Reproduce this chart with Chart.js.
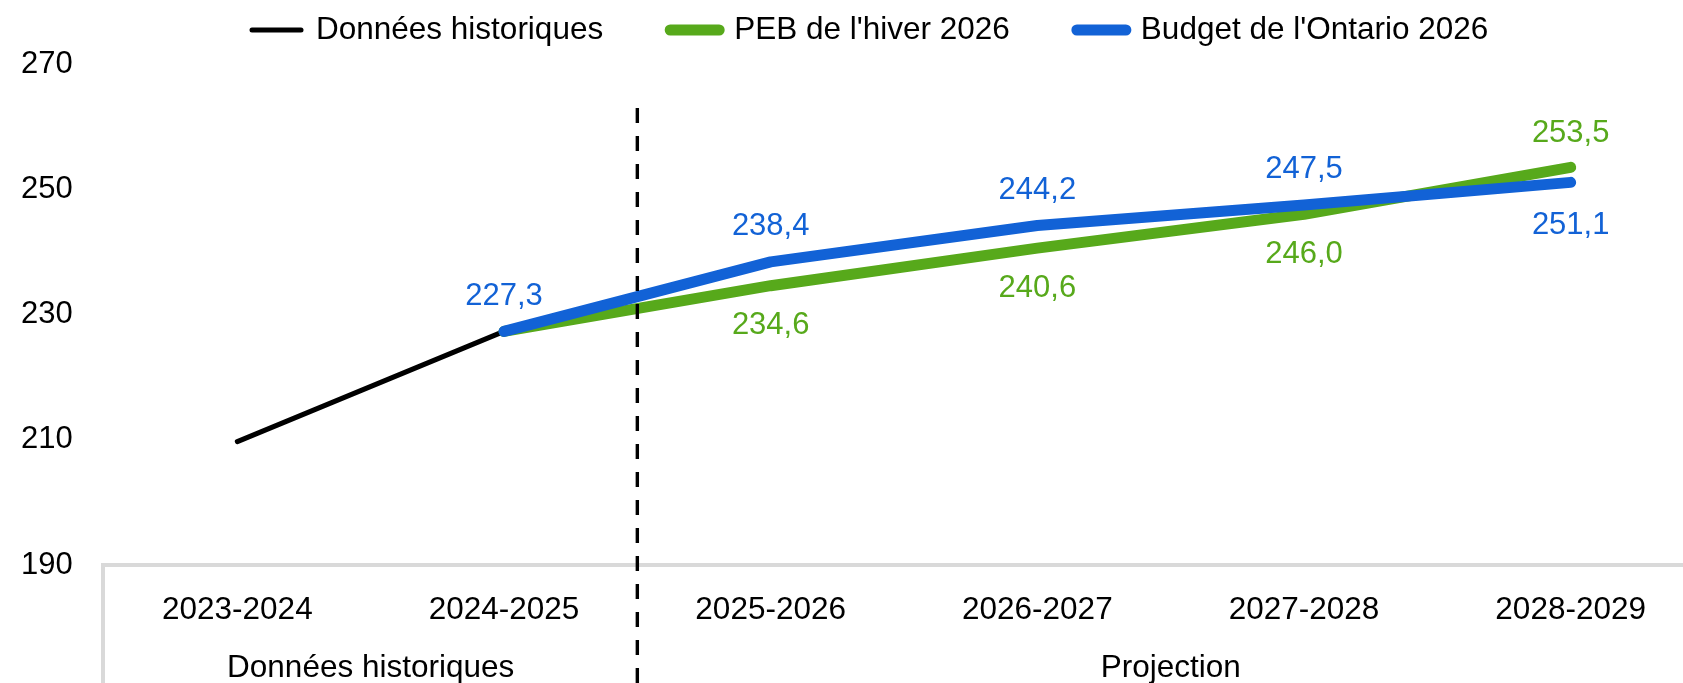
<!DOCTYPE html>
<html lang="fr">
<head>
<meta charset="utf-8">
<title>PEB de l'hiver 2026 et Budget de l'Ontario 2026</title>
<script src="https://cdn.jsdelivr.net/npm/chart.js@4.4.1/dist/chart.umd.min.js"></script>
<style>
  html, body { margin: 0; padding: 0; background: #fff; overflow: hidden; }
  #wrap { width: 1683px; height: 683px; overflow: hidden; }
  canvas { display: block; }
</style>
</head>
<body>
<div id="wrap"><canvas id="chart" width="1704" height="683"></canvas></div>
<script>
// Data
const years = ["2023-2024", "2024-2025", "2025-2026", "2026-2027", "2027-2028", "2028-2029"];
const groups = ["Données historiques", "Projection"];
const groupSizes = [2, 4];
const historical = [209.7, 227.3, null, null, null, null];
const winterPeb  = [null, 227.3, 234.6, 240.6, 246.0, 253.5];
const budget     = [null, 227.3, 238.4, 244.2, 247.5, 251.1];
const yTicks = [190, 210, 230, 250, 270];

const FONT = '"Liberation Sans", Arial, sans-serif';
const BLACK = "#000000";
const GREEN = "#57a91b";
const BLUE  = "#1262d6";
const GREY  = "#d9d9d9";

const fmt = (v) => v.toFixed(1).replace(".", ",");

// Decorations: separator, group labels, value labels
const extras = {
  id: "extras",
  afterDatasetsDraw(chart) {
    const { ctx, chartArea: a, scales: { x } } = chart;
    const H = chart.height;
    ctx.save();

    // left group border
    ctx.strokeStyle = GREY;
    ctx.lineWidth = 4;
    ctx.beginPath();
    ctx.moveTo(a.left - 1, a.bottom - 2);
    ctx.lineTo(a.left - 1, H);
    ctx.stroke();

    // dashed separator between history and projection
    const split = (x.getPixelForValue(groupSizes[0] - 1) + x.getPixelForValue(groupSizes[0])) / 2;
    ctx.strokeStyle = BLACK;
    ctx.lineWidth = 3.4;
    ctx.setLineDash([15, 13]);
    ctx.beginPath();
    ctx.moveTo(split, 108);
    ctx.lineTo(split, H);
    ctx.stroke();
    ctx.setLineDash([]);

    // group labels
    ctx.font = `31.5px ${FONT}`;
    ctx.fillStyle = BLACK;
    ctx.textAlign = "center";
    ctx.textBaseline = "middle";
    let start = a.left, idx = 0;
    groups.forEach((g, i) => {
      idx += groupSizes[i];
      const end = idx < years.length
        ? (x.getPixelForValue(idx - 1) + x.getPixelForValue(idx)) / 2
        : a.right;
      ctx.fillText(g, (start + end) / 2, 668);
      start = end;
    });

    // value labels
    ctx.font = `31px ${FONT}`;
    const gMeta = chart.getDatasetMeta(1);
    const bMeta = chart.getDatasetMeta(2);
    for (let i = 0; i < years.length; i++) {
      const b = budget[i], g = winterPeb[i];
      if (b != null) {
        const p = bMeta.data[i];
        const above = g == null || b >= g;
        ctx.fillStyle = BLUE;
        ctx.fillText(fmt(b), p.x, above ? p.y - 35 : p.y + 43);
      }
      if (g != null && g !== b) {
        const p = gMeta.data[i];
        const above = b != null && g > b;
        ctx.fillStyle = GREEN;
        ctx.fillText(fmt(g), p.x, above ? p.y - 34 : p.y + 40);
      }
    }
    ctx.restore();
  },
  afterDraw(chart) {
    // legend
    const { ctx } = chart;
    ctx.save();
    ctx.font = `31.5px ${FONT}`;
    ctx.textAlign = "left";
    ctx.textBaseline = "middle";
    ctx.lineCap = "round";
    const y = 30;
    let cx = 252;
    chart.data.datasets.forEach((ds) => {
      ctx.strokeStyle = ds.borderColor;
      ctx.lineWidth = ds.borderWidth;
      ctx.beginPath();
      ctx.moveTo(cx, y);
      ctx.lineTo(cx + 49, y);
      ctx.stroke();
      ctx.fillStyle = BLACK;
      const tx = cx + 49 + 15;
      ctx.fillText(ds.label, tx, y);
      cx = tx + ctx.measureText(ds.label).width + 67;
    });
    ctx.restore();
  }
};

const lineStyle = { pointRadius: 0, pointHoverRadius: 0, tension: 0, borderCapStyle: "round", borderJoinStyle: "round", spanGaps: false };

new Chart(document.getElementById("chart").getContext("2d"), {
  type: "line",
  data: {
    labels: years,
    datasets: [
      { label: "Données historiques", data: historical, borderColor: BLACK, borderWidth: 5, order: 3, ...lineStyle },
      { label: "PEB de l'hiver 2026", data: winterPeb, borderColor: GREEN, borderWidth: 11, order: 2, ...lineStyle },
      { label: "Budget de l'Ontario 2026", data: budget, borderColor: BLUE, borderWidth: 11, order: 1, ...lineStyle }
    ]
  },
  options: {
    responsive: false,
    animation: false,
    events: [],
    layout: { padding: { left: 21, top: 64, right: 0, bottom: 0 } },
    plugins: { legend: { display: false }, tooltip: { enabled: false } },
    scales: {
      x: {
        offset: true,
        grid: { display: false, drawTicks: false },
        border: { display: true, color: GREY, width: 4 },
        ticks: { color: BLACK, font: { family: FONT, size: 31.5 }, padding: 26, maxRotation: 0, autoSkip: false },
        afterFit: (s) => { s.height = 118; }
      },
      y: {
        min: yTicks[0],
        max: yTicks[yTicks.length - 1],
        grid: { display: false, drawTicks: false },
        border: { display: false },
        afterBuildTicks: (s) => { s.ticks = yTicks.map((v) => ({ value: v })); },
        ticks: { color: BLACK, font: { family: FONT, size: 31 }, crossAlign: "far", padding: 0 },
        afterFit: (s) => { s.width = 83; }
      }
    }
  },
  plugins: [extras]
});
</script>
</body>
</html>
